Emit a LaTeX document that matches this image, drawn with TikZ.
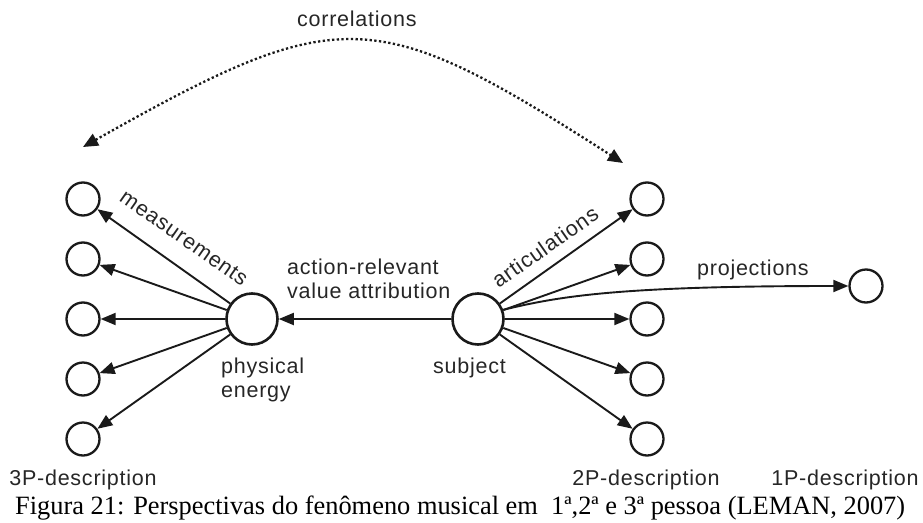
\documentclass[tikz,border=0pt]{standalone}
\usepackage{fontspec}
\setmainfont{Liberation Sans}[LetterSpace=3.5]
\newfontfamily\capfont{Liberation Serif}
\usetikzlibrary{arrows.meta}
\definecolor{ink}{HTML}{1A1A1A}
\definecolor{labelgray}{HTML}{262626}

\begin{document}
\begin{tikzpicture}[x=1pt, y=-1pt,
  dot/.style={circle, draw=ink, line width=2.3pt, minimum size=33pt, inner sep=0pt},
  hub/.style={circle, draw=ink, line width=2.6pt, minimum size=51pt, inner sep=0pt},
  flow/.style={draw=ink, line width=1.9pt, -{Triangle[length=15pt,width=12pt]}},
  corr/.style={draw=ink, line width=2.3pt, dash pattern=on 2.3pt off 2.4pt,
    {Triangle[length=15pt,width=13pt]}-{Triangle[length=15pt,width=13pt]}},
  lbl/.style={text=labelgray, font=\fontsize{21.5}{23.5}\selectfont, inner sep=0pt},
]
\useasboundingbox (0,0) rectangle (923,522);

% central hubs
\node[hub] (pe) at (252,319) {};
\node[hub] (subj) at (478,319) {};

% third-person column
\node[dot] (l1) at (83,199) {};
\node[dot] (l2) at (83,259) {};
\node[dot] (l3) at (83,319) {};
\node[dot] (l4) at (83,379) {};
\node[dot] (l5) at (83,439) {};

% second-person column
\node[dot] (r1) at (647,199) {};
\node[dot] (r2) at (647,259) {};
\node[dot] (r3) at (647,319) {};
\node[dot] (r4) at (647,379) {};
\node[dot] (r5) at (647,439) {};

% first-person target
\node[dot] (p1) at (866,286) {};

% measurements and articulations
\foreach \i in {1,...,5} {
  \draw[flow] (pe) -- (l\i);
  \draw[flow] (subj) -- (r\i);
}

% value attribution
\draw[flow] (subj) -- (pe);

% projections
\draw[flow] (subj.20) .. controls (560,296) and (620,286) .. (p1.west);

% correlations
\coordinate (corrL) at (83,147);
\coordinate (corrR) at (623,163);
\draw[corr] (corrL) .. controls (340,2) and (375,4) .. (corrR);

% labels
\node[lbl, anchor=base west] (tcorr) at (297,27) {correlations};
\node[lbl, rotate=-35] (tmeas) at (184,238) {measurements};
\node[lbl, rotate=35] (tart) at (545,247) {articulations};
\node[lbl, anchor=north west, align=left] (tval) at (287,259) {action-relevant\\value attribution};
\node[lbl, anchor=north west, align=left] (tphys) at (221,358) {physical\\energy};
\node[lbl, anchor=base west] (tsubj) at (433,373) {subject};
\node[lbl, anchor=base west] (tproj) at (697,275) {projections};
\node[lbl, anchor=base] (t3p) at (83,485) {3P-description};
\node[lbl, anchor=base] (t2p) at (646,485) {2P-description};
\node[lbl, anchor=base] (t1p) at (845,485) {1P-description};

% caption
\node[anchor=base west, inner sep=0pt, text=black, font=\capfont\fontsize{26.4}{30}\selectfont] (cap) at (15,514)
  {Figura 21: Perspectivas do fenômeno musical em\ \ 1ª,2ª e 3ª pessoa (LEMAN, 2007)};
\end{tikzpicture}
\end{document}
